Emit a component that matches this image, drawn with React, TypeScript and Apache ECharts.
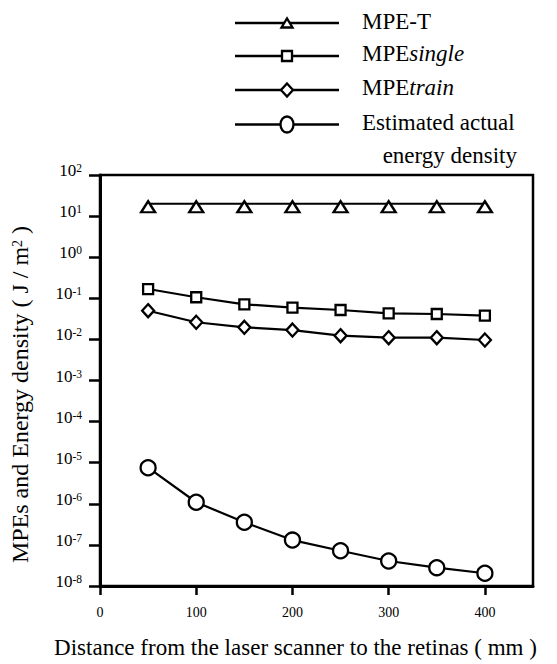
import React, { useEffect, useRef } from 'react';
import * as echarts from 'echarts';

// ---- data ----
const xValues = [50, 100, 150, 200, 250, 300, 350, 400];
const mpeT = [20, 20, 20, 20, 20, 20, 20, 20];
const mpeSingle = [0.168, 0.106, 0.0715, 0.059, 0.0519, 0.0431, 0.0415, 0.0378];
const mpeTrain = [0.0499, 0.0261, 0.0197, 0.0169, 0.0123, 0.011, 0.011, 0.00966];
const estimated = [7.55e-6, 1.09e-6, 3.55e-7, 1.31e-7, 7.2e-8, 4.06e-8, 2.79e-8, 2.04e-8];
const xTicks = [0, 100, 200, 300, 400];
const yExponents = [-8, -7, -6, -5, -4, -3, -2, -1, 0, 1, 2];
const seriesNames = ['MPE-T', 'MPEsingle', 'MPEtrain', 'Estimated actual energy density'];

const FONT = 'Liberation Serif';
const yTicks = yExponents.map((e) => Number('1e' + e));

function pairs(vals: number[]) {
  return xValues.map((x, i) => [x, vals[i]]);
}

const markerStyle = { color: '#fff', borderColor: '#000', borderWidth: 2.3 };
const lineStyle = { color: '#000', width: 2.2 };

function buildLegend() {
  const items: any[] = [];
  const rows = [
    { y: 23, ty: 21, kind: 'tri', text: 'MPE-T' },
    { y: 56, ty: 53.5, kind: 'rect', text: 'MPE{i|single}' },
    { y: 90, ty: 87.5, kind: 'dia', text: 'MPE{i|train}' },
    { y: 124.5, ty: 122.5, kind: 'circ', text: 'Estimated actual' },
  ];
  const cx = 287;
  const sym = { fill: '#fff', stroke: '#000', lineWidth: 2.3 };
  rows.forEach((r) => {
    items.push({ type: 'line', shape: { x1: 235, y1: r.y, x2: 339, y2: r.y }, style: { stroke: '#000', lineWidth: 2.4 }, z: 10 });
    if (r.kind === 'tri') {
      items.push({ type: 'polygon', shape: { points: [[cx - 5.5, r.y + 4.5], [cx + 5.5, r.y + 4.5], [cx, r.y - 4.5]] }, style: sym, z: 11 });
    } else if (r.kind === 'rect') {
      items.push({ type: 'rect', shape: { x: cx - 5, y: r.y - 5, width: 10, height: 10 }, style: sym, z: 11 });
    } else if (r.kind === 'dia') {
      items.push({ type: 'polygon', shape: { points: [[cx, r.y - 6.5], [cx + 6, r.y], [cx, r.y + 6.5], [cx - 6, r.y]] }, style: sym, z: 11 });
    } else {
      items.push({ type: 'ellipse', shape: { cx, cy: r.y, rx: 6.5, ry: 8 }, style: sym, z: 11 });
    }
    items.push({
      type: 'text',
      x: 362,
      y: r.ty,
      style: {
        text: r.text,
        fontSize: 23,
        fontFamily: FONT,
        fill: '#000',
        verticalAlign: 'middle',
        align: 'left',
        rich: { i: { fontStyle: 'italic', fontSize: 23, fontFamily: FONT, fill: '#000' } },
      },
      z: 11,
    });
  });
  items.push({
    type: 'text',
    x: 517,
    y: 155,
    style: { text: 'energy density', fontSize: 23, fontFamily: FONT, fill: '#000', verticalAlign: 'middle', align: 'right' },
    z: 11,
  });
  return items;
}

export default function App() {
  const ref = useRef<HTMLDivElement>(null);
  useEffect(() => {
    const chart = echarts.init(ref.current!, null, { renderer: 'svg' });
    chart.setOption({
      animation: false,
      backgroundColor: '#fff',
      textStyle: { fontFamily: FONT, color: '#000' },
      grid: { left: 98, right: 24, top: 175, bottom: 78, show: true, borderColor: '#000', borderWidth: 2.5, backgroundColor: 'transparent' },
      xAxis: {
        type: 'value',
        min: 0,
        max: 450,
        interval: 50,
        name: 'Distance from the laser scanner to the retinas ( mm )',
        nameLocation: 'middle',
        nameGap: 50,
        nameTextStyle: { fontSize: 23, fontFamily: FONT, color: '#000', padding: [0, 42, 0, 0] },
        axisLine: { show: true, onZero: false, lineStyle: { color: '#000', width: 3 } },
        axisTick: { show: true, customValues: xTicks, length: 9, lineStyle: { color: '#000', width: 2.5 } },
        axisLabel: { customValues: xTicks, fontSize: 14, fontFamily: FONT, color: '#000', margin: 19 },
        splitLine: { show: false },
      },
      yAxis: {
        type: 'log',
        logBase: 10,
        min: 1e-8,
        max: 100,
        name: 'MPEs and Energy density ( J / m{sup|2} )',
        nameLocation: 'middle',
        nameGap: 68,
        nameRotate: 90,
        nameTextStyle: {
          fontSize: 24,
          fontFamily: FONT,
          color: '#000',
          padding: [0, 28, 0, 0],
          rich: { sup: { fontSize: 14, fontFamily: FONT, color: '#000', padding: [0, 0, 6, 0] } },
        },
        axisLine: { show: true, lineStyle: { color: '#000', width: 3 } },
        axisTick: { show: true, customValues: yTicks, length: 11, lineStyle: { color: '#000', width: 2.5 } },
        axisLabel: {
          customValues: yTicks,
          margin: 18,
          fontFamily: FONT,
          formatter: (v: number) => `{b|10}{s|${Math.round(Math.log10(v))}}`,
          rich: {
            b: { fontSize: 17, fontFamily: FONT, color: '#000', padding: [0, 0, 9, 0] },
            s: { fontSize: 11.5, fontFamily: FONT, color: '#000', padding: [0, 0, 14, 0] },
          },
        },
        splitLine: { show: false },
        minorTick: { show: false },
      },
      series: [
        { name: seriesNames[0], type: 'line', data: pairs(mpeT), symbol: 'triangle', symbolSize: [14, 11], symbolOffset: [0, 3], itemStyle: markerStyle, lineStyle, z: 3 },
        { name: seriesNames[1], type: 'line', data: pairs(mpeSingle), symbol: 'rect', symbolSize: [10, 10], itemStyle: markerStyle, lineStyle, z: 3 },
        { name: seriesNames[2], type: 'line', data: pairs(mpeTrain), symbol: 'diamond', symbolSize: [12, 13], itemStyle: markerStyle, lineStyle, z: 3 },
        { name: seriesNames[3], type: 'line', data: pairs(estimated), symbol: 'circle', symbolSize: 15, itemStyle: markerStyle, lineStyle, z: 3 },
      ],
      graphic: buildLegend(),
    });
    return () => chart.dispose();
  }, []);
  return <div ref={ref} style={{ position: 'fixed', left: 0, top: 0, width: 557, height: 664, background: '#fff' }} />;
}
